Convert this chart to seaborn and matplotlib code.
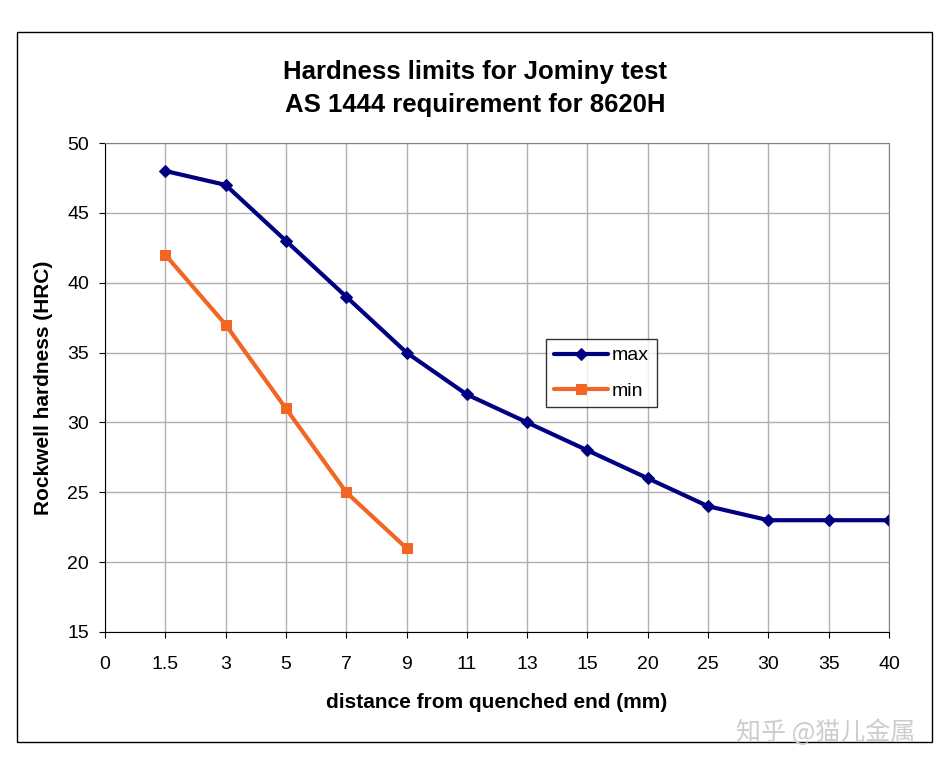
import matplotlib
matplotlib.use('Agg')
import matplotlib.pyplot as plt
import pandas as pd
import seaborn as sns

categories = ['0', '1.5', '3', '5', '7', '9', '11', '13', '15', '20', '25', '30', '35', '40']
max_x = ['1.5', '3', '5', '7', '9', '11', '13', '15', '20', '25', '30', '35', '40']
max_hrc = [48, 47, 43, 39, 35, 32, 30, 28, 26, 24, 23, 23, 23]
min_x = ['1.5', '3', '5', '7', '9']
min_hrc = [42, 37, 31, 25, 21]

df_max = pd.DataFrame({'pos': [categories.index(c) for c in max_x], 'hrc': max_hrc})
df_min = pd.DataFrame({'pos': [categories.index(c) for c in min_x], 'hrc': min_hrc})

sns.set_style('white')
plt.rcParams['font.family'] = ['Liberation Sans', 'DejaVu Sans']
plt.rcParams['text.color'] = 'black'
plt.rcParams['axes.labelcolor'] = 'black'
plt.rcParams['xtick.color'] = 'black'
plt.rcParams['ytick.color'] = 'black'

fig = plt.figure(figsize=(9.52, 7.69), dpi=100)
ax = fig.add_axes([0.1103, 0.1782, 0.8235, 0.6358])

sns.lineplot(data=df_max, x='pos', y='hrc', ax=ax, color='#000080', linewidth=3,
             marker='D', markersize=6, markeredgecolor='#000080', label='max')
sns.lineplot(data=df_min, x='pos', y='hrc', ax=ax, color='#F26522', linewidth=3,
             marker='s', markersize=7, markeredgecolor='#F26522', label='min')

ax.set_xlim(0, len(categories) - 1)
ax.set_ylim(15, 50)
ax.set_xticks(range(len(categories)))
ax.set_xticklabels(categories, fontsize=14)
ax.set_yticks(range(15, 51, 5))
ax.tick_params(axis='y', labelsize=14, pad=7)
ax.tick_params(axis='x', pad=13)
ax.tick_params(axis='both', length=4.5, direction='out', color='black', left=True, bottom=True)
ax.grid(True, color='#b0b0b0', linewidth=1)
for s in ax.spines.values():
    s.set_color('#808080')
ax.spines['left'].set_color('black')
ax.spines['bottom'].set_color('black')

ax.set_xlabel('distance from quenched end (mm)', fontsize=15, fontweight='bold', labelpad=14)
ax.set_ylabel('Rockwell hardness (HRC)', fontsize=15, fontweight='bold', labelpad=10)

fig.text(0.499, 0.906, 'Hardness limits for Jominy test', ha='center', va='center',
         fontsize=18.5, fontweight='bold')
fig.text(0.499, 0.863, 'AS 1444 requirement for 8620H', ha='center', va='center',
         fontsize=18.5, fontweight='bold')

leg = ax.legend(loc='upper left', bbox_to_anchor=(0.5625, 0.599), fontsize=14,
                frameon=True, fancybox=False, edgecolor='black', handlelength=2.8,
                handletextpad=0.2, borderpad=0.4, labelspacing=0.9, borderaxespad=0)
leg.get_frame().set_linewidth(1)

fig.patches.append(plt.Rectangle((0.0179, 0.0351), 0.9611, 0.9233, transform=fig.transFigure,
                                 fill=False, edgecolor='black', linewidth=1))

fig.text(0.867, 0.047, '知乎 @猫儿金属', ha='center', va='center', fontsize=18,
         color='#cccccc', family=['Noto Sans CJK SC', 'DejaVu Sans'])

fig.savefig('out.png', dpi=100)
